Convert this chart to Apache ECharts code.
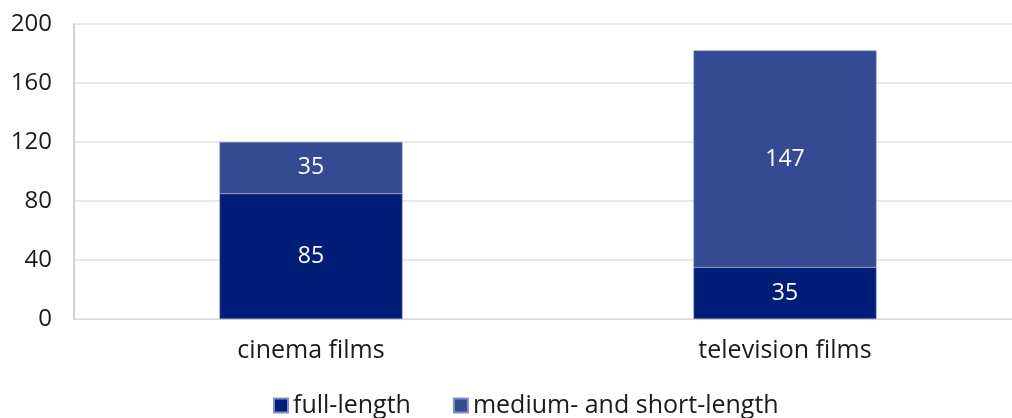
<!DOCTYPE html>
<html><head><meta charset="utf-8">
<script src="https://cdn.jsdelivr.net/npm/echarts@6/dist/echarts.min.js"></script>
<style>html,body{margin:0;padding:0;background:#fff;overflow:hidden;width:1012px;height:418px}#c{width:1022px;height:418px}</style>
</head><body><div id="c"></div>
<script>
const categories = ['cinema films', 'television films'];
const fullLength = [85, 35];
const mediumShort = [35, 147];
const yTicks = [0, 40, 80, 120, 160, 200];
const seriesNames = ['full-length', 'medium- and short-length'];

const chart = echarts.init(document.getElementById('c'));
const font = 'Open Sans';
chart.setOption({
  animation: false,
  textStyle: { fontFamily: font },
  grid: { left: 74, top: 24, right: 0, bottom: 99, containLabel: false },
  legend: {
    bottom: -5, left: 268,
    itemWidth: 14, itemHeight: 14, itemGap: 42,
    icon: 'rect',
    textStyle: { fontSize: 25, color: '#1a1a1a', fontFamily: font, padding: [0, 0, 0, 0] },
    data: seriesNames
  },
  xAxis: {
    type: 'category', data: categories,
    axisLine: { lineStyle: { color: '#d9d9d9', width: 1 } },
    axisTick: { show: false },
    axisLabel: { fontSize: 25, color: '#1a1a1a', margin: 19, fontFamily: font }
  },
  yAxis: {
    type: 'value', min: yTicks[0], max: yTicks[yTicks.length - 1], interval: 40,
    axisLine: { show: true, lineStyle: { color: '#d0d0d0', width: 2 } },
    axisTick: { show: false },
    splitLine: { lineStyle: { color: '#e0e0e0', width: 1.5 } },
    axisLabel: { fontSize: 24, color: '#1a1a1a', margin: 22, fontFamily: font }
  },
  series: [
    {
      name: seriesNames[0], type: 'bar', stack: 'a', data: fullLength, barWidth: '38.6%',
      itemStyle: { color: '#001e78', borderColor: '#8090c0', borderWidth: 0.5 },
      label: { show: true, position: 'inside', color: '#fff', fontSize: 23, fontFamily: font }
    },
    {
      name: seriesNames[1], type: 'bar', stack: 'a', data: mediumShort, barWidth: '38.6%',
      itemStyle: { color: '#344a93', borderColor: '#8090c0', borderWidth: 0.5 },
      label: { show: true, position: 'inside', color: '#fff', fontSize: 23, fontFamily: font }
    }
  ]
});
</script></body></html>
